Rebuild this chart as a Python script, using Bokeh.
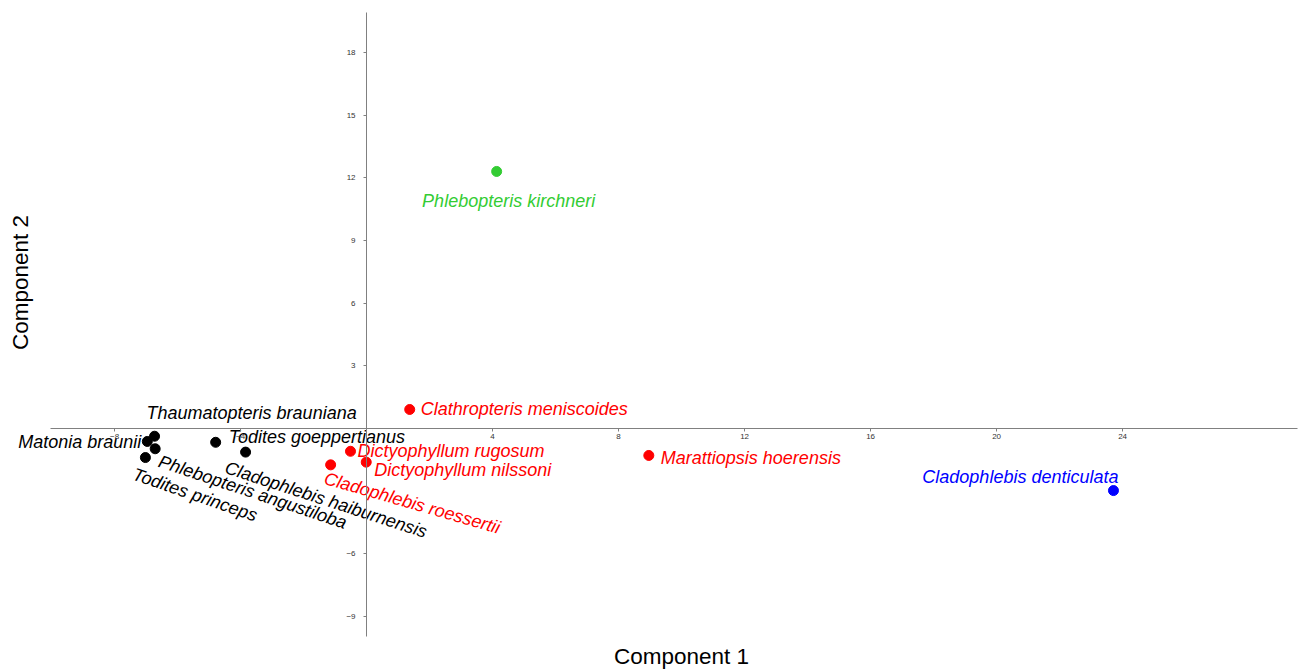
from bokeh.plotting import figure
from bokeh.models import LinearAxis, FixedTicker, Range1d, ColumnDataSource, Label
from bokeh.core.properties import value
from bokeh.embed import file_html
from bokeh.resources import INLINE
import math

# ---- data ----
species = [
    "Matonia braunii", "Thaumatopteris brauniana", "Phlebopteris angustiloba",
    "Todites princeps", "Todites goeppertianus", "Cladophlebis haiburnensis",
    "Clathropteris meniscoides", "Dictyophyllum rugosum", "Dictyophyllum nilssoni",
    "Cladophlebis roessertii", "Marattiopsis hoerensis",
    "Phlebopteris kirchneri", "Cladophlebis denticulata",
]
component1 = [-6.96, -6.73, -6.71, -7.02, -4.79, -3.84,
              1.37, -0.51, -0.01, -1.14, 8.96,
              4.13, 23.71]
component2 = [-0.62, -0.37, -0.97, -1.39, -0.66, -1.13,
              0.91, -1.09, -1.61, -1.74, -1.29,
              12.30, -2.97]
group = ["A"] * 6 + ["B"] * 5 + ["C", "D"]

x_ticks = [-8, -4, 4, 8, 12, 16, 20, 24]
y_ticks = [-9, -6, 3, 6, 9, 12, 15, 18]

# ---- styling ----
group_color = {"A": "#000000", "B": "#ff0000", "C": "#33cc33", "D": "#0000ff"}
colors = [group_color[g] for g in group]

# label placement: (x_offset px, y_offset px, align, angle deg)
placement = {
    "Matonia braunii": (-6, 1, "right", 0),
    "Thaumatopteris brauniana": (-8, -23, "left", 0),
    "Phlebopteris angustiloba": (4, 12, "left", -18.5),
    "Todites princeps": (-12, 16, "left", -19),
    "Todites goeppertianus": (13, -5, "left", 0),
    "Cladophlebis haiburnensis": (-20, 15, "left", -18),
    "Clathropteris meniscoides": (11, 0, "left", 0),
    "Dictyophyllum rugosum": (7, 0, "left", 0),
    "Dictyophyllum nilssoni": (8, 8, "left", 0),
    "Cladophlebis roessertii": (-6, 13, "left", -16),
    "Marattiopsis hoerensis": (12, 3, "left", 0),
    "Phlebopteris kirchneri": (12, 30, "center", 0),
    "Cladophlebis denticulata": (5, -14, "right", 0),
}

src = ColumnDataSource(dict(
    x=component1, y=component2, name=species, color=colors,
    xo=[placement[s][0] for s in species],
    yo=[placement[s][1] for s in species],
    align=[placement[s][2] for s in species],
    angle=[math.radians(placement[s][3]) for s in species],
))

p = figure(width=1313, height=670,
           x_range=Range1d(-11.62, 30.06), y_range=Range1d(-11.58, 20.48),
           x_axis_location=None, y_axis_location=None,
           toolbar_location=None, output_backend="svg",
           min_border_left=0, min_border_right=0,
           min_border_top=0, min_border_bottom=0)
p.grid.visible = False
p.outline_line_color = None
p.background_fill_color = "white"

def style_axis(ax):
    ax.axis_line_color = "#808080"
    ax.axis_line_width = 1
    ax.major_tick_line_color = "#808080"
    ax.major_tick_out = 3
    ax.major_tick_in = 0
    ax.minor_tick_line_color = None
    ax.major_label_text_font = "Liberation Sans"
    ax.major_label_text_font_size = "8px"
    ax.major_label_text_color = "#333333"

xa = LinearAxis(fixed_location=0, ticker=FixedTicker(ticks=x_ticks), bounds=(-10.03, 29.56))
style_axis(xa)
xa.major_label_standoff = 3
p.add_layout(xa, "below")

ya = LinearAxis(fixed_location=0, ticker=FixedTicker(ticks=y_ticks), bounds=(-9.95, 19.9))
style_axis(ya)
ya.major_label_standoff = 8
p.add_layout(ya, "left")

p.add_layout(Label(x=681, y=14, x_units="screen", y_units="screen", text="Component 1",
                   text_align="center", text_baseline="middle", text_font="Liberation Sans",
                   text_font_size="22.5px", text_color="#000000"))
p.add_layout(Label(x=20, y=388, x_units="screen", y_units="screen", text="Component 2",
                   angle=math.pi / 2, text_align="center", text_baseline="middle",
                   text_font="Liberation Sans", text_font_size="22.5px", text_color="#000000"))

p.scatter("x", "y", source=src, size=10, fill_color="color", line_color="color")
p.text("x", "y", text="name", source=src, x_offset="xo", y_offset="yo",
       text_align="align", angle="angle", text_baseline="middle",
       text_color="color", text_font=value("Liberation Sans"), text_font_style="italic",
       text_font_size="18px")

open("out.html", "w").write(file_html(p, INLINE))
